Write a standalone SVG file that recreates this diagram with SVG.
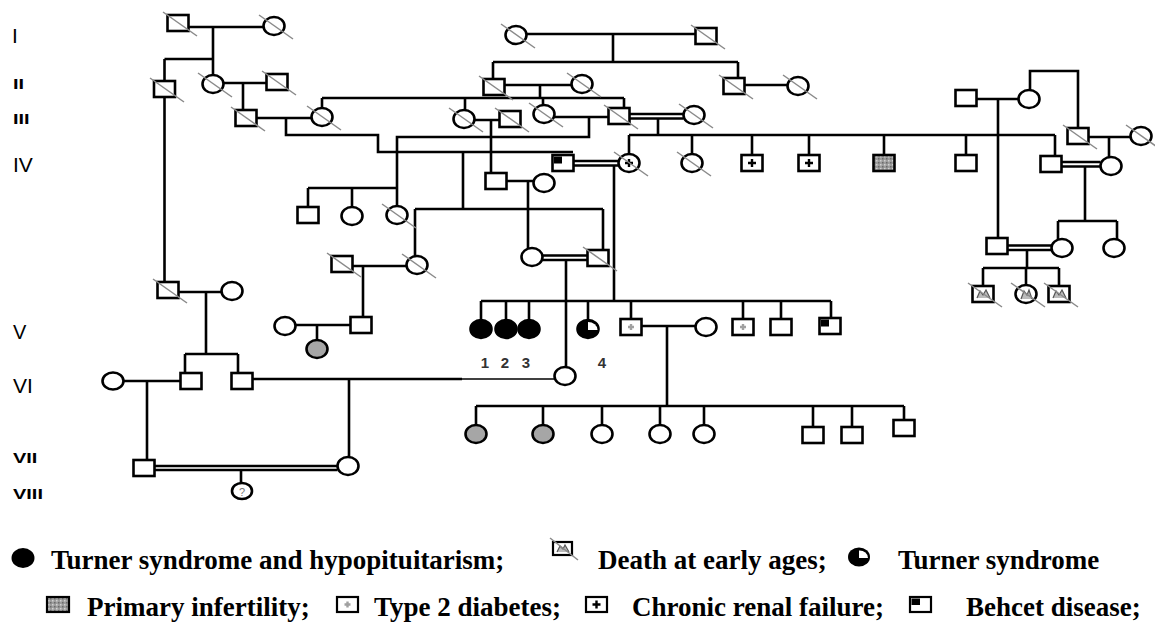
<svg xmlns="http://www.w3.org/2000/svg" width="1155" height="632" viewBox="0 0 1155 632">
<defs>
<style>
.l{stroke:#000;stroke-width:2.6;fill:none}
.s{fill:#fff;stroke:#000;stroke-width:2.6}
.k{fill:#000;stroke:#000;stroke-width:2.6}
.g{fill:#a6a6a6;stroke:#000;stroke-width:2.6}
.d{stroke:#8a8a8a;stroke-width:1.5}
.crf{stroke:#000;stroke-width:2.4;fill:none}
.dm{stroke:#a0a0a0;stroke-width:2.4;fill:none}
.mt{stroke:#555;stroke-width:1.2;fill:#bbb}
.gen{font-family:"Liberation Sans",Arial,sans-serif;fill:#000}
.leg{font-family:"Liberation Serif","Times New Roman",serif;font-weight:bold;font-size:27px;fill:#000}
.num{font-family:"Liberation Sans",Arial,sans-serif;font-weight:bold;font-size:15px;fill:#333;text-anchor:middle}
</style>
<pattern id="inf" width="4" height="4" patternUnits="userSpaceOnUse"><rect width="4" height="4" fill="#9c9c9c"/><rect width="1.5" height="1.5" fill="#d2d2d2"/><rect x="2" y="2" width="1.5" height="1.5" fill="#6a6a6a"/></pattern>
</defs>
<rect width="1155" height="632" fill="#fff"/>

<g id="generations" class="gen">
<text x="12" y="43" font-size="21">I</text>
<text transform="translate(13 89) scale(1 0.75)" font-size="20" font-weight="bold">II</text>
<text transform="translate(13 124) scale(1 0.75)" font-size="20" font-weight="bold">III</text>
<text x="13" y="172" font-size="21">IV</text>
<text x="13" y="339" font-size="20">V</text>
<text x="13" y="393" font-size="21">VI</text>
<text transform="translate(13 463) scale(1 0.75)" font-size="20" font-weight="bold">VII</text>
<text transform="translate(13 499) scale(1 0.75)" font-size="20" font-weight="bold">VIII</text>
</g>

<g id="connectors" class="l">
<path d="M188.5 27H263.5M213 27V75M164.5 59H213M164.5 59V81"/>
<path d="M223.5 83H266.5M243 83V110"/>
<path d="M256.5 118H311.5M286 118V135H378V152H573"/>
<path d="M526.5 34H695.5M613 34V62M493 62H738M493 62V79M738 62V78"/>
<path d="M504.5 85H571.5M540 85V98M322 98H624M322 98V108M465 98V110M543 98V105M624 98V108"/>
<path d="M744.5 85H787.5"/>
<path d="M474.5 120H499.5M491 120V173"/>
<path d="M554.5 117H608.5M589 117V137H397V206"/>
<path d="M629.5 114H683.5M629.5 118.5H683.5M658 118.5V135M629 135H1055M629 135V154M692 135V154M752 135V155M809 135V155M884 135V155M966 135V155M1055 135V156"/>
<path d="M976.5 99H1018.5M998 99V238M1030 90V71H1078V128M1088.5 137H1130.5M1109 137V157"/>
<path d="M1061.5 162H1100.5M1061.5 166.5H1100.5M1085 166.5V221M1058 221H1117M1058 221V239M1117 221V239"/>
<path d="M1007.5 245.5H1051.5M1007.5 250H1051.5M1027 250V268M983 268H1059M983 268V286M1026 268V285M1059 268V286"/>
<path d="M573.5 161H618.5M573.5 165.5H618.5M614 165.5V301"/>
<path d="M506.5 181H533.5M528 181V248"/>
<path d="M308 188H397M308 188V207M352 188V207"/>
<path d="M463 152V209M415 209H603M415 209V256M603 209V250"/>
<path d="M352.5 266H406.5M363 266V317"/>
<path d="M542.5 255.5H587.5M542.5 260H587.5M566 260V367"/>
<path d="M481 301H831M481 301V320M506 301V320M529 301V320M588 301V320M631 301V319M743 301V319M781 301V319M831 301V318"/>
<path d="M641.5 326H695.5M667 326V406"/>
<path d="M476 406H904M476 406V425M543 406V425M602 406V425M660 406V425M704 406V425M813 406V427M852 406V427M904 406V420"/>
<path d="M295.5 325H350.5M317 325V340"/>
<path d="M164.5 97V282"/>
<path d="M178.5 292H221.5M206 292V354M185 354H238M185 354V373M238 354V373"/>
<path d="M123.5 381H180.5M147 381V460"/>
<path d="M252.5 379H462M349 379V457"/>
<path d="M462 379H554.5" stroke-width="1.4"/>
<path d="M154.5 466H337.5M154.5 470H337.5M241 470V483"/>
</g>

<!-- Generation I -->
<g id="I-1"><rect class="s" x="167.5" y="15" width="21" height="16"/><line class="d" x1="163" y1="12" x2="197" y2="36"/></g>
<g id="I-2"><ellipse class="s" cx="274" cy="26" rx="10.5" ry="9"/><line class="d" x1="259" y1="15" x2="293" y2="39"/></g>
<g id="I-3"><ellipse class="s" cx="516" cy="35" rx="10.5" ry="9"/><line class="d" x1="501" y1="24" x2="535" y2="48"/></g>
<g id="I-4"><rect class="s" x="695.5" y="28" width="21" height="16"/><line class="d" x1="691" y1="25" x2="725" y2="49"/></g>

<!-- Generation II -->
<g id="II-1"><rect class="s" x="154" y="81" width="21" height="16"/><line class="d" x1="150" y1="78" x2="184" y2="102"/></g>
<g id="II-2"><ellipse class="s" cx="213" cy="84" rx="10.5" ry="9"/><line class="d" x1="198" y1="73" x2="232" y2="97"/></g>
<g id="II-3"><rect class="s" x="266.5" y="74" width="21" height="16"/><line class="d" x1="262" y1="71" x2="296" y2="95"/></g>
<g id="II-4"><rect class="s" x="483.5" y="79" width="21" height="16"/><line class="d" x1="479" y1="76" x2="513" y2="100"/></g>
<g id="II-5"><ellipse class="s" cx="582" cy="84" rx="10.5" ry="9"/><line class="d" x1="567" y1="73" x2="601" y2="97"/></g>
<g id="II-6"><rect class="s" x="723.5" y="78" width="21" height="16"/><line class="d" x1="719" y1="75" x2="753" y2="99"/></g>
<g id="II-7"><ellipse class="s" cx="798" cy="86" rx="10.5" ry="9"/><line class="d" x1="783" y1="75" x2="817" y2="99"/></g>

<!-- Generation III -->
<g id="III-1"><rect class="s" x="235.5" y="110" width="21" height="16"/><line class="d" x1="231" y1="107" x2="265" y2="131"/></g>
<g id="III-2"><ellipse class="s" cx="322" cy="117" rx="10.5" ry="9"/><line class="d" x1="307" y1="106" x2="341" y2="130"/></g>
<g id="III-3"><ellipse class="s" cx="464" cy="119" rx="10.5" ry="9"/><line class="d" x1="449" y1="108" x2="483" y2="132"/></g>
<g id="III-4"><rect class="s" x="499.5" y="111" width="21" height="16"/><line class="d" x1="495" y1="108" x2="529" y2="132"/></g>
<g id="III-5"><ellipse class="s" cx="544" cy="114" rx="10.5" ry="9"/><line class="d" x1="529" y1="103" x2="563" y2="127"/></g>
<g id="III-6"><rect class="s" x="608.5" y="108" width="21" height="16"/><line class="d" x1="604" y1="105" x2="638" y2="129"/></g>
<g id="III-7"><ellipse class="s" cx="694" cy="115" rx="10.5" ry="9"/><line class="d" x1="679" y1="104" x2="713" y2="128"/></g>
<g id="III-8"><rect class="s" x="955.5" y="90" width="21" height="16"/></g>
<g id="III-9"><ellipse class="s" cx="1029" cy="99" rx="10.5" ry="9"/></g>
<g id="III-10"><rect class="s" x="1067.5" y="128" width="21" height="16"/><line class="d" x1="1063" y1="125" x2="1097" y2="149"/></g>
<g id="III-11"><ellipse class="s" cx="1141" cy="136" rx="10.5" ry="9"/><line class="d" x1="1126" y1="125" x2="1160" y2="149"/></g>

<!-- Generation IV -->
<g id="IV-1"><rect class="s" x="552.5" y="155" width="21" height="16"/><rect x="554" y="156.5" width="8" height="7" fill="#000"/></g>
<g id="IV-2"><ellipse class="s" cx="629" cy="163" rx="10.5" ry="9"/><path class="crf" d="M625 163H633M629 159V167"/><line class="d" x1="614" y1="152" x2="648" y2="176"/></g>
<g id="IV-3"><ellipse class="s" cx="692" cy="163" rx="10.5" ry="9"/><line class="d" x1="677" y1="152" x2="711" y2="176"/></g>
<g id="IV-4"><rect class="s" x="741.5" y="155" width="21" height="16"/><path class="crf" d="M748 163H756M752 159V167"/></g>
<g id="IV-5"><rect class="s" x="798.5" y="155" width="21" height="16"/><path class="crf" d="M805 163H813M809 159V167"/></g>
<g id="IV-6"><rect x="873.5" y="155" width="21" height="16" fill="url(#inf)" stroke="#000" stroke-width="2.6"/></g>
<g id="IV-7"><rect class="s" x="955.5" y="155" width="21" height="16"/></g>
<g id="IV-8"><rect class="s" x="1040.5" y="156" width="21" height="16"/></g>
<g id="IV-9"><ellipse class="s" cx="1111" cy="166" rx="10.5" ry="9"/></g>
<g id="IV-10"><rect class="s" x="485.5" y="173" width="21" height="16"/></g>
<g id="IV-11"><ellipse class="s" cx="544" cy="183" rx="10.5" ry="9"/></g>
<g id="IV-12"><rect class="s" x="297.5" y="207" width="21" height="16"/></g>
<g id="IV-13"><ellipse class="s" cx="352" cy="216" rx="10.5" ry="9"/></g>
<g id="IV-14"><ellipse class="s" cx="397" cy="215" rx="10.5" ry="9"/><line class="d" x1="382" y1="204" x2="416" y2="228"/></g>
<g id="IV-15"><rect class="s" x="331.5" y="256" width="21" height="16"/><line class="d" x1="327" y1="253" x2="361" y2="277"/></g>
<g id="IV-16"><ellipse class="s" cx="417" cy="265" rx="10.5" ry="9"/><line class="d" x1="402" y1="254" x2="436" y2="278"/></g>
<g id="IV-17"><ellipse class="s" cx="532" cy="257" rx="10.5" ry="9"/></g>
<g id="IV-18"><rect class="s" x="587.5" y="250" width="21" height="16"/><line class="d" x1="583" y1="247" x2="617" y2="271"/></g>
<g id="IV-19"><rect class="s" x="986.5" y="238" width="21" height="16"/></g>
<g id="IV-20"><ellipse class="s" cx="1062" cy="248" rx="10.5" ry="9"/></g>
<g id="IV-21"><ellipse class="s" cx="1114" cy="248" rx="10.5" ry="9"/></g>
<g id="IV-22"><rect class="s" x="157.5" y="282" width="21" height="16"/><line class="d" x1="153" y1="279" x2="187" y2="303"/></g>
<g id="IV-23"><ellipse class="s" cx="232" cy="291" rx="10.5" ry="9"/></g>
<g id="IV-24"><rect class="s" x="972.5" y="286" width="21" height="16"/><polyline class="mt" points="977,298 980,291 983,295 986,290 990,298"/><line class="d" x1="968" y1="283" x2="1002" y2="307"/></g>
<g id="IV-25"><ellipse class="s" cx="1026" cy="294" rx="10.5" ry="9"/><polyline class="mt" points="1021,299 1024,291 1027,295 1029,290 1032,299"/><line class="d" x1="1011" y1="283" x2="1045" y2="307"/></g>
<g id="IV-26"><rect class="s" x="1048.5" y="286" width="21" height="16"/><polyline class="mt" points="1053,298 1056,291 1059,295 1062,290 1066,298"/><line class="d" x1="1044" y1="283" x2="1078" y2="307"/></g>

<!-- Generation V -->
<g id="V-1"><ellipse class="s" cx="285" cy="326" rx="10.5" ry="9"/></g>
<g id="V-2"><rect class="s" x="350.5" y="317" width="21" height="16"/></g>
<g id="V-3"><ellipse class="g" cx="317" cy="349" rx="10.5" ry="9"/></g>
<g id="V-4"><ellipse class="k" cx="481" cy="329" rx="10.5" ry="9"/></g>
<g id="V-5"><ellipse class="k" cx="506" cy="329" rx="10.5" ry="9"/></g>
<g id="V-6"><ellipse class="k" cx="529" cy="329" rx="10.5" ry="9"/></g>
<g id="V-7"><ellipse class="k" cx="588" cy="329" rx="10.5" ry="9"/><path d="M588 330L597.5 330A9.5 8 0 0 0 588 322Z" fill="#fff"/></g>
<g id="V-8"><rect class="s" x="620.5" y="319" width="21" height="16"/><path class="dm" d="M628 327H634M631 324V330"/></g>
<g id="V-9"><ellipse class="s" cx="706" cy="327" rx="10.5" ry="9"/></g>
<g id="V-10"><rect class="s" x="732.5" y="319" width="21" height="16"/><path class="dm" d="M740 327H746M743 324V330"/></g>
<g id="V-11"><rect class="s" x="770.5" y="319" width="21" height="16"/></g>
<g id="V-12"><rect class="s" x="819.5" y="318" width="21" height="16"/><rect x="821" y="319.5" width="8" height="7" fill="#000"/></g>
<g id="V-labels">
<text class="num" x="485" y="368">1</text>
<text class="num" x="505" y="368">2</text>
<text class="num" x="526" y="368">3</text>
<text class="num" x="602" y="368">4</text>
</g>

<!-- Generation VI -->
<g id="VI-1"><ellipse class="s" cx="113" cy="381" rx="10.5" ry="8.5"/></g>
<g id="VI-2"><rect class="s" x="180.5" y="373" width="21" height="16"/></g>
<g id="VI-3"><rect class="s" x="231.5" y="373" width="21" height="16"/></g>
<g id="VI-4"><ellipse class="s" cx="565" cy="376" rx="10.5" ry="9"/></g>

<!-- Generation VII -->
<g id="VII-1"><rect class="s" x="133.5" y="460" width="21" height="16"/></g>
<g id="VII-2"><ellipse class="s" cx="348" cy="466" rx="10.5" ry="9"/></g>
<g id="VII-3"><ellipse class="g" cx="476" cy="434" rx="10.5" ry="9"/></g>
<g id="VII-4"><ellipse class="g" cx="543" cy="434" rx="10.5" ry="9"/></g>
<g id="VII-5"><ellipse class="s" cx="602" cy="434" rx="10.5" ry="9"/></g>
<g id="VII-6"><ellipse class="s" cx="660" cy="434" rx="10.5" ry="9"/></g>
<g id="VII-7"><ellipse class="s" cx="704" cy="434" rx="10.5" ry="9"/></g>
<g id="VII-8"><rect class="s" x="802.5" y="427" width="21" height="16"/></g>
<g id="VII-9"><rect class="s" x="841.5" y="427" width="21" height="16"/></g>
<g id="VII-10"><rect class="s" x="893.5" y="420" width="21" height="16"/></g>

<!-- Generation VIII -->
<g id="VIII-1"><ellipse class="s" cx="242" cy="491" rx="10" ry="8"/><text x="242" y="495.5" font-family="Liberation Sans, Arial, sans-serif" font-size="11" fill="#777" text-anchor="middle">?</text></g>

<!-- Legend -->
<g id="legend">
<ellipse cx="23" cy="558" rx="11.5" ry="10" fill="#000"/>
<text class="leg" x="51" y="569">Turner syndrome and hypopituitarism;</text>
<g id="leg-death"><rect x="553" y="542" width="19" height="13" fill="#fff" stroke="#000" stroke-width="2.2"/><polyline class="mt" points="557,552 560,546 563,549 565,545 569,552"/><line class="d" x1="550" y1="538" x2="578" y2="560"/></g>
<text class="leg" x="598" y="569">Death at early ages;</text>
<g id="leg-turner"><ellipse cx="859" cy="557" rx="11" ry="9.5" fill="#000"/><path d="M859 558L868 558A8.5 7.5 0 0 0 859 550.5Z" fill="#fff"/></g>
<text class="leg" x="898" y="569">Turner syndrome</text>

<rect x="47" y="597" width="22" height="15" fill="url(#inf)" stroke="#000" stroke-width="2.2"/>
<text class="leg" x="87" y="616">Primary infertility;</text>
<g id="leg-diab"><rect x="337" y="597" width="21" height="15" fill="#fff" stroke="#000" stroke-width="2.2"/><path class="dm" d="M344.5 604.5H350.5M347.5 601.5V607.5"/></g>
<text class="leg" x="374" y="616">Type 2 diabetes;</text>
<g id="leg-crf"><rect x="586" y="597" width="21" height="15" fill="#fff" stroke="#000" stroke-width="2.2"/><path class="crf" d="M592.5 604.5H600.5M596.5 600.5V608.5"/></g>
<text class="leg" x="632" y="616">Chronic renal failure;</text>
<g id="leg-behcet"><rect x="910" y="597" width="21" height="15" fill="#fff" stroke="#000" stroke-width="2.2"/><rect x="911.5" y="598.5" width="8.5" height="6.5" fill="#000"/></g>
<text class="leg" x="966" y="616">Behcet disease;</text>
</g>
</svg>
